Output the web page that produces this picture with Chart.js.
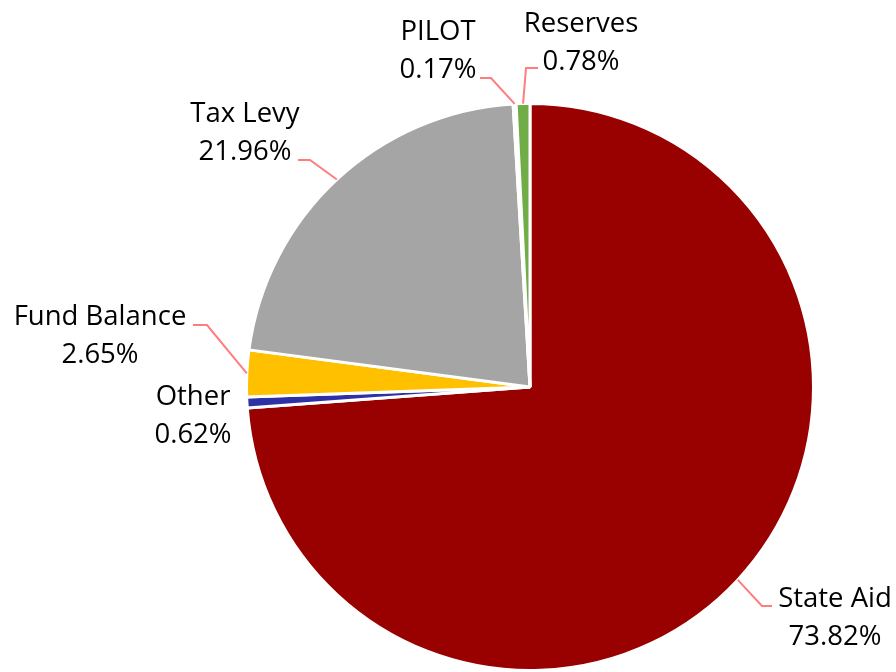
<!DOCTYPE html>
<html>
<head>
<meta charset="utf-8">
<title>Revenue sources</title>
<script src="https://cdn.jsdelivr.net/npm/chart.js@4.4.1/dist/chart.umd.min.js"></script>
<style>
  html, body { margin: 0; padding: 0; background: #fff; }
  #wrap { width: 896px; height: 672px; position: relative; }
</style>
</head>
<body>
<div id="wrap"><canvas id="pie"></canvas></div>
<script>
// Data, clockwise from 12 o'clock
const categories = ["State Aid", "Other", "Fund Balance", "Tax Levy", "PILOT", "Reserves"];
const shares = [73.82, 0.62, 2.65, 21.96, 0.17, 0.78];
const shareLabels = ["73.82%", "0.62%", "2.65%", "21.96%", "0.17%", "0.78%"];

const sliceColors = ["#990000", "#2E31A6", "#FFC000", "#A5A5A5", "#4472C4", "#70AD47"];

// Where each label sits (text centre, first baseline) and the elbow of its leader line
const labelLayout = [
  { x: 835, y: 607, line: [[772, 606], [762, 606]] },
  { x: 193, y: 405, line: null },
  { x: 100, y: 325, line: [[193, 325], [207, 325]] },
  { x: 245, y: 122, line: [[298, 160], [310, 160]] },
  { x: 438, y: 40, line: [[480, 78], [491, 78]] },
  { x: 581, y: 32, line: [[538, 68], [526, 68]] }
];

// Plugin that draws the labels and leader lines like the Excel original
const labelPlugin = {
  id: "excelLabels",
  afterDatasetsDraw(chart) {
    const ctx = chart.ctx;
    const arcs = chart.getDatasetMeta(0).data;
    ctx.save();
    ctx.font = '27.5px "Open Sans", sans-serif';
    ctx.fillStyle = "#000";
    ctx.textAlign = "center";
    ctx.textBaseline = "alphabetic";
    arcs.forEach((arc, i) => {
      const pos = labelLayout[i];
      ctx.fillText(categories[i], pos.x, pos.y);
      ctx.fillText(shareLabels[i], pos.x, pos.y + 38);
      if (pos.line) {
        // Leader ends on the rim, at the middle of the slice
        const p = arc.getProps(["x", "y", "startAngle", "endAngle", "outerRadius"], true);
        const mid = (p.startAngle + p.endAngle) / 2;
        const ex = p.x + Math.cos(mid) * p.outerRadius;
        const ey = p.y + Math.sin(mid) * p.outerRadius;
        ctx.strokeStyle = "#FF7C80";
        ctx.lineWidth = 2;
        ctx.beginPath();
        ctx.moveTo(pos.line[0][0], pos.line[0][1]);
        ctx.lineTo(pos.line[1][0], pos.line[1][1]);
        ctx.lineTo(ex, ey);
        ctx.stroke();
      }
    });
    ctx.restore();
  }
};

new Chart(document.getElementById("pie"), {
  type: "pie",
  data: {
    labels: categories,
    datasets: [{
      data: shares,
      backgroundColor: sliceColors,
      borderColor: "#ffffff",
      borderWidth: 3
    }]
  },
  options: {
    responsive: true,
    maintainAspectRatio: false,
    animation: false,
    events: [],
    layout: {
      padding: { left: 241, right: 77, top: 102, bottom: -8 }
    },
    plugins: {
      legend: { display: false },
      tooltip: { enabled: false },
      title: { display: false }
    }
  },
  plugins: [labelPlugin]
});
</script>
</body>
</html>
